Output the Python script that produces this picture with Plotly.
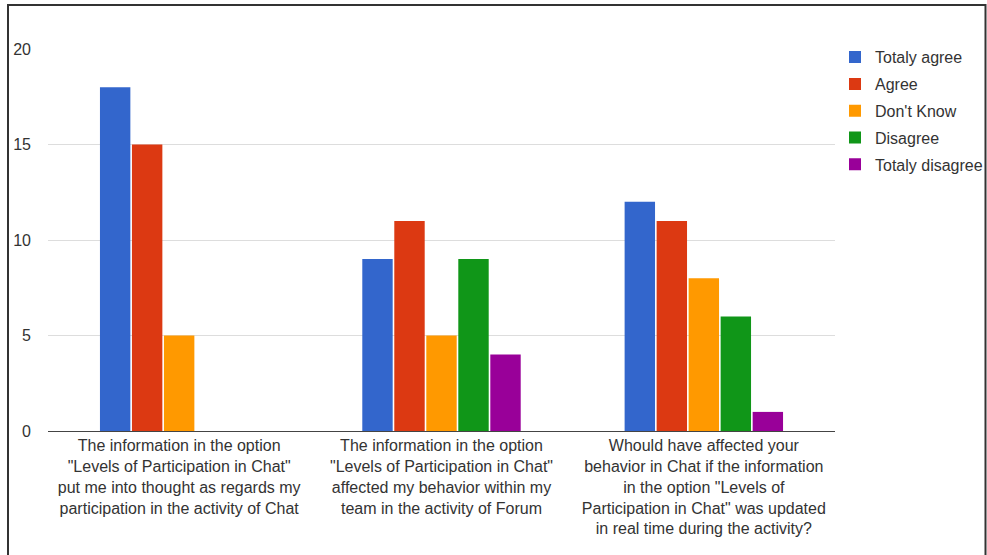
import plotly.graph_objects as go

categories = [
    "The information in the option<br>\"Levels of Participation in Chat\"<br>put me into thought as regards my<br>participation in the activity of Chat",
    "The information in the option<br>\"Levels of Participation in Chat\"<br>affected my behavior within my<br>team in the activity of Forum",
    "Whould have affected your<br>behavior in Chat if the information<br>in the option \"Levels of<br>Participation in Chat\" was updated<br>in real time during the activity?",
]
series_names = ["Totaly agree", "Agree", "Don't Know", "Disagree", "Totaly disagree"]
totaly_agree = [18, 9, 12]
agree = [15, 11, 11]
dont_know = [5, 5, 8]
disagree = [0, 9, 6]
totaly_disagree = [0, 4, 1]
series_values = [totaly_agree, agree, dont_know, disagree, totaly_disagree]
colors = ["#3366cc", "#dc3912", "#ff9900", "#109618", "#990099"]
y_ticks = [0, 5, 10, 15, 20]

fig = go.Figure()
for i, (name, vals, col) in enumerate(zip(series_names, series_values, colors)):
    fig.add_trace(go.Bar(name=name, x=categories, y=vals, legendgroup=f"g{i}",
                         marker=dict(color=col, line=dict(width=0))))

font_family = "Liberation Sans, Arial, sans-serif"
fig.update_layout(
    width=987, height=555,
    margin=dict(l=48, r=152, t=49, b=124, autoexpand=False),
    paper_bgcolor="white", plot_bgcolor="white",
    barmode="group", bargap=0.39, bargroupgap=0.05,
    font=dict(family=font_family, size=16, color="#333333"),
    legend=dict(x=1.0, y=1.023, xanchor="left", yanchor="top",
                font=dict(size=16, color="#333333"), tracegroupgap=3,
                bgcolor="rgba(0,0,0,0)"),
    xaxis=dict(showgrid=False, showline=True, linecolor="#444444", linewidth=1,
               ticks="", tickfont=dict(size=16, color="#333333"), tickangle=0),
    yaxis=dict(range=[0, 20], tickvals=y_ticks, showgrid=True, gridcolor="#dddddd",
               zeroline=False, showline=False, ticks="", ticklabelstandoff=16,
               tickfont=dict(size=16, color="#333333")),
    shapes=[dict(type="rect", xref="paper", yref="paper",
                 x0=(8 - 48) / 787, x1=(985.5 - 48) / 787,
                 y0=-(130 / 382), y1=1 + 44 / 382,
                 line=dict(color="#333333", width=2), fillcolor="rgba(0,0,0,0)",
                 layer="below")],
)

fig.write_html("out.html")
